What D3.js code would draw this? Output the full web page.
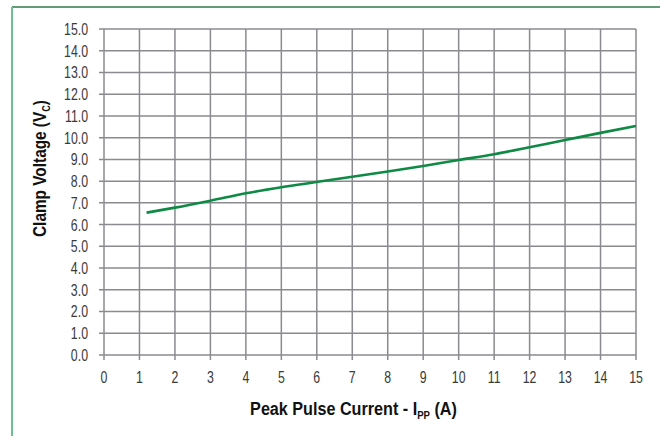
<!DOCTYPE html>
<html><head><meta charset="utf-8">
<script src="https://cdn.jsdelivr.net/npm/d3@7"></script>
<style>
body{margin:0;background:#fff;}
svg{display:block;font-family:"Liberation Sans Narrow","Liberation Sans",Arial,sans-serif;}
</style></head>
<body><svg id="c" width="660" height="436"></svg>
<script>
const xTicks = [0,1,2,3,4,5,6,7,8,9,10,11,12,13,14,15];
const yTicks = [0,1,2,3,4,5,6,7,8,9,10,11,12,13,14,15];
const currentA = [1.2,2,3,4,5,6,7,8,9,10,11,12,13,14,15];
const clampV = [6.55,6.78,7.1,7.44,7.72,7.96,8.2,8.44,8.7,8.97,9.24,9.56,9.89,10.22,10.54];

const svg = d3.select("#c");
const L=104, R=636, T=29, B=355;
const x = d3.scaleLinear().domain([0,15]).range([L,R]);
const y = d3.scaleLinear().domain([0,15]).range([B,T]);

// frame
svg.append("line").attr("x1",12).attr("x2",660).attr("y1",7).attr("y2",7).attr("stroke","#2c7a4e").attr("stroke-width",1.5);
svg.append("line").attr("x1",12).attr("x2",12).attr("y1",7).attr("y2",436).attr("stroke","#6cbf93").attr("stroke-width",2);

// grid
const g = svg.append("g");
g.selectAll(".vg").data(xTicks).join("line")
 .attr("x1",d=>x(d)).attr("x2",d=>x(d)).attr("y1",T).attr("y2",B+5)
 .attr("stroke","#8a8a90").attr("stroke-width",1.5);
g.selectAll(".hg").data(yTicks).join("line")
 .attr("x1",L-5).attr("x2",R).attr("y1",d=>y(d)).attr("y2",d=>y(d))
 .attr("stroke","#8a8a90").attr("stroke-width",1.5);

// measure condensed factor for tick labels: "15.0" should be ~24px wide
const FS = 16.5;
const probe = svg.append("text").attr("font-size",FS).text("15.0");
const sx = 24 / probe.node().getComputedTextLength();
probe.remove();

svg.append("g").selectAll("g").data(yTicks).join("g")
 .attr("transform",d=>`translate(88,${y(d)}) scale(${sx},1)`)
 .append("text").attr("dy","0.36em").attr("text-anchor","end")
 .attr("font-size",FS).attr("fill","#3a3a3a").text(d=>d.toFixed(1));
svg.append("g").selectAll("g").data(xTicks).join("g")
 .attr("transform",d=>`translate(${x(d)},377) scale(${sx},1)`)
 .append("text").attr("dy","0.36em").attr("text-anchor","middle")
 .attr("font-size",FS).attr("fill","#3a3a3a").text(d=>d);

// curve
const pts = currentA.map((a,i)=>[a,clampV[i]]);
svg.append("path").datum(pts)
 .attr("d",d3.line().x(d=>x(d[0])).y(d=>y(d[1])).curve(d3.curveMonotoneX))
 .attr("fill","none").attr("stroke","#0e8a45").attr("stroke-width",2.6);

// titles (fit to the reference's condensed widths)
function fitted(cx, cy, rot, targetW, parts){
  const outer = svg.append("g").attr("transform",`translate(${cx},${cy}) rotate(${rot})`);
  const inner = outer.append("g");
  const t = inner.append("text").attr("x",0).attr("y",0).attr("text-anchor","middle")
    .attr("font-size",18.5).attr("font-weight","bold").attr("fill","#111");
  t.append("tspan").text(parts[0]);
  t.append("tspan").attr("font-size",11).attr("dy",4).text(parts[1]);
  t.append("tspan").attr("dy",-4).text(parts[2]);
  const w = t.node().getBBox().width;
  inner.attr("transform",`scale(${targetW/w},1)`);
}
fitted(353.5, 415, 0, 207, ["Peak Pulse Current - I","PP"," (A)"]);
fitted(46, 168.5, -90, 137, ["Clamp Voltage (V","C",")"]);
</script></body></html>
